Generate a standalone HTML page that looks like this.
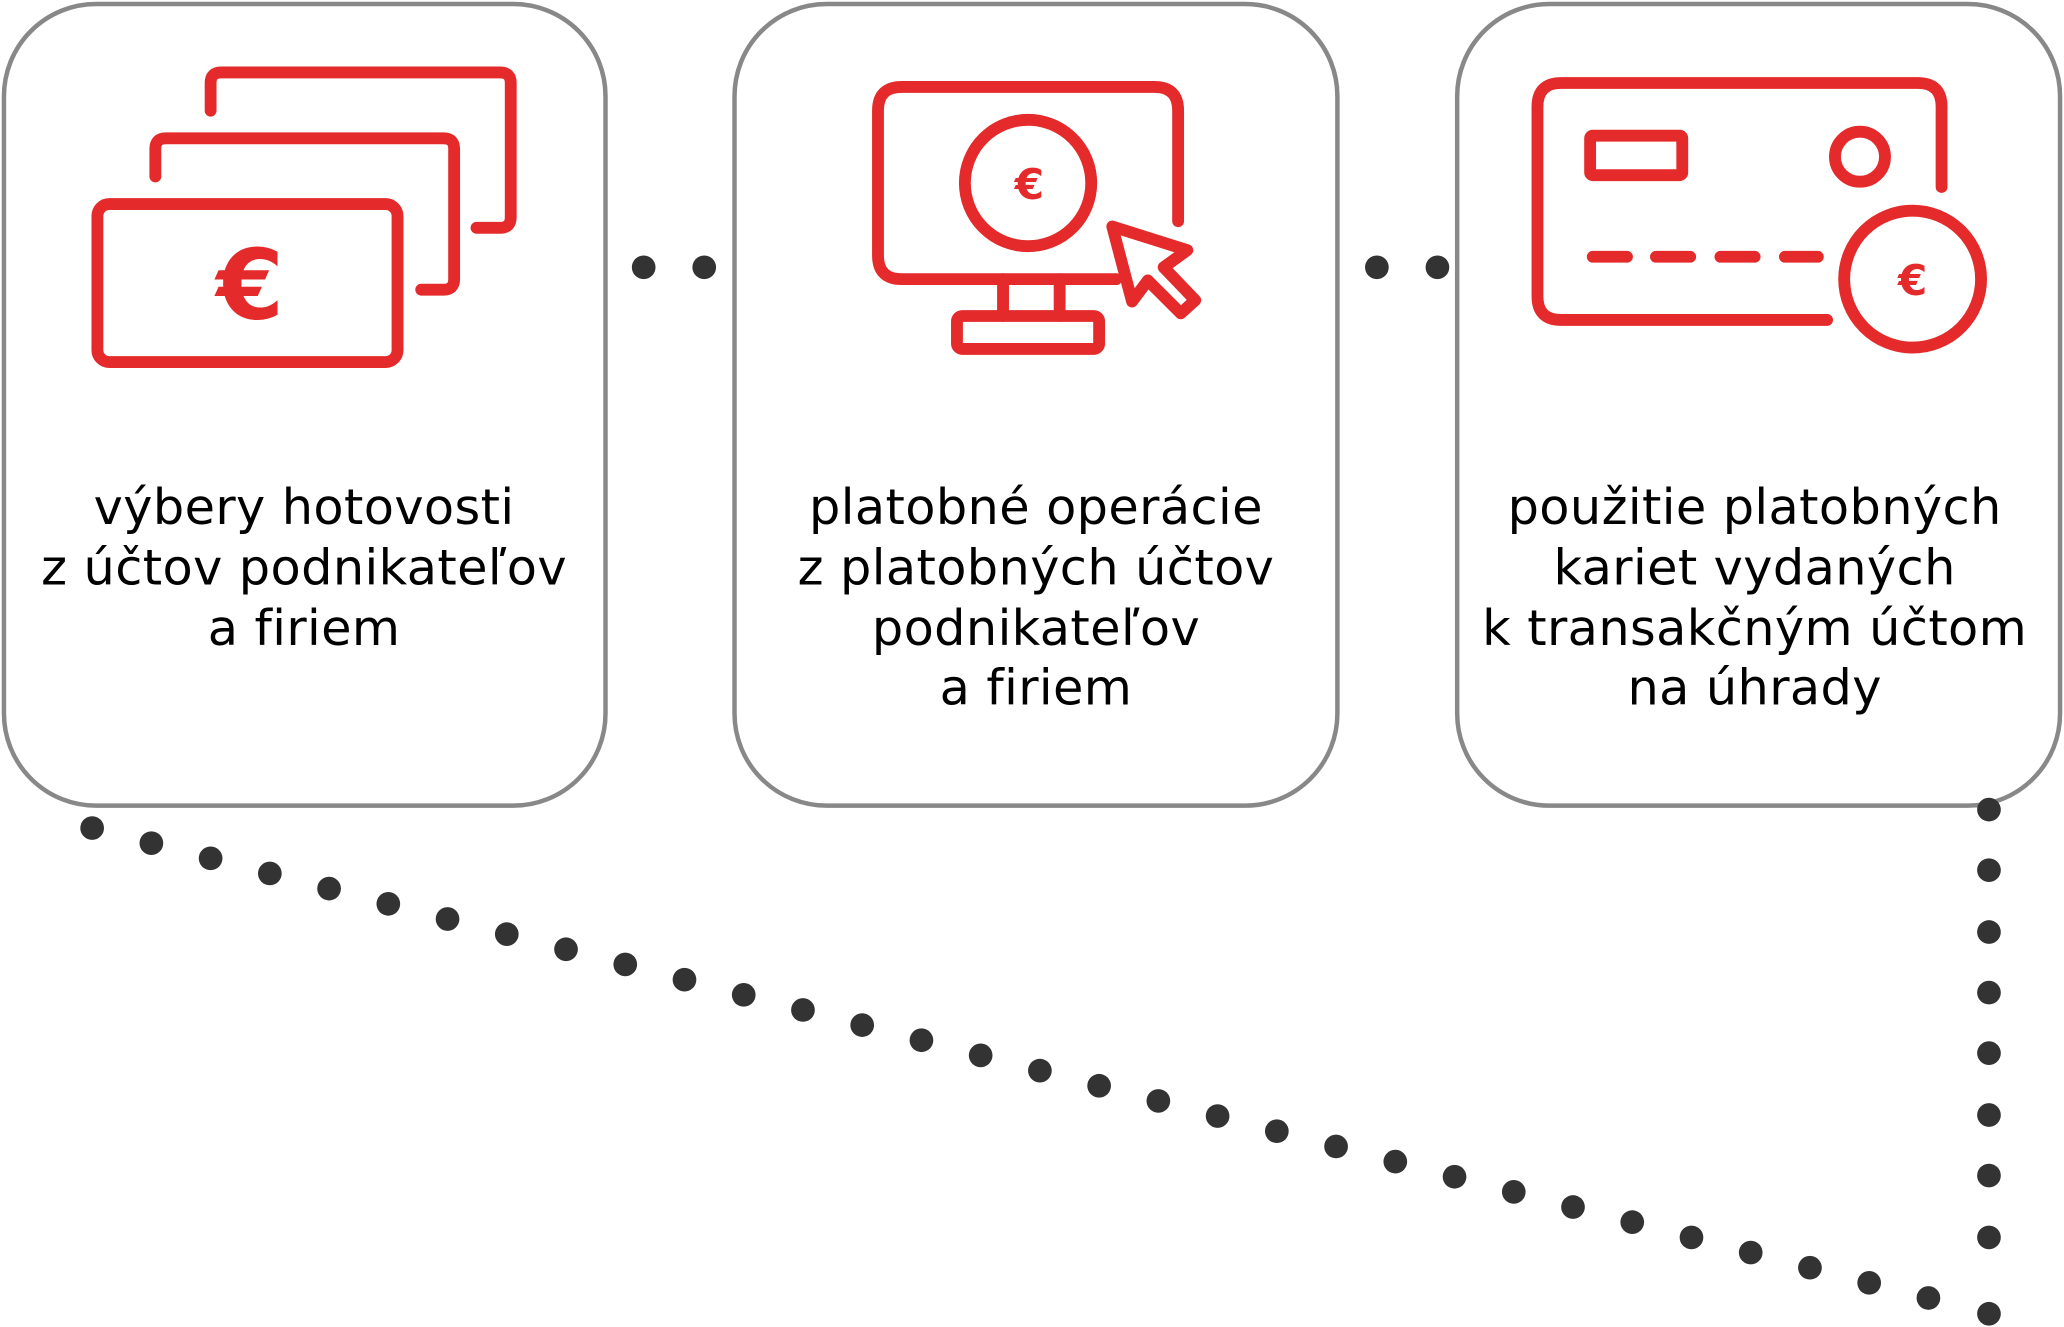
<!DOCTYPE html>
<html><head><meta charset="utf-8"><style>
html,body{margin:0;padding:0;background:#fff;}
svg{display:block;}
text{font-variant-ligatures:none;font-feature-settings:"liga" 0;}
</style></head><body>
<svg width="2064" height="1327" viewBox="0 0 1568 1008" xmlns="http://www.w3.org/2000/svg">
<g fill="#fff" stroke="#888" stroke-width="3.4">
<rect x="3" y="3" width="457" height="609" rx="70"/>
<rect x="558" y="3" width="458" height="609" rx="70"/>
<rect x="1107" y="3" width="458" height="609" rx="70"/>
</g>
<g fill="#333">
<circle cx="489" cy="203" r="9"/><circle cx="535" cy="203" r="9"/>
<circle cx="1046" cy="203" r="9"/><circle cx="1092" cy="203" r="9"/>
<circle cx="70" cy="629" r="9"/><circle cx="115" cy="640.5" r="9"/><circle cx="160" cy="652" r="9"/><circle cx="205" cy="663.5" r="9"/><circle cx="250" cy="675" r="9"/><circle cx="295" cy="686.6" r="9"/><circle cx="340" cy="698.1" r="9"/><circle cx="385" cy="709.6" r="9"/><circle cx="430" cy="721.1" r="9"/><circle cx="475" cy="732.6" r="9"/><circle cx="520" cy="744.2" r="9"/><circle cx="565" cy="755.7" r="9"/><circle cx="610" cy="767.2" r="9"/><circle cx="655" cy="778.7" r="9"/><circle cx="700" cy="790.2" r="9"/><circle cx="745" cy="801.7" r="9"/><circle cx="790" cy="813.3" r="9"/><circle cx="835" cy="824.8" r="9"/><circle cx="880" cy="836.3" r="9"/><circle cx="925" cy="847.8" r="9"/><circle cx="970" cy="859.3" r="9"/><circle cx="1015" cy="870.9" r="9"/><circle cx="1060" cy="882.4" r="9"/><circle cx="1105" cy="893.9" r="9"/><circle cx="1150" cy="905.4" r="9"/><circle cx="1195" cy="916.9" r="9"/><circle cx="1240" cy="928.4" r="9"/><circle cx="1285" cy="940" r="9"/><circle cx="1330" cy="951.5" r="9"/><circle cx="1375" cy="963" r="9"/><circle cx="1420" cy="974.5" r="9"/><circle cx="1465" cy="986" r="9"/>
<circle cx="1511" cy="615" r="9"/><circle cx="1511" cy="661" r="9"/><circle cx="1511" cy="708" r="9"/><circle cx="1511" cy="754" r="9"/><circle cx="1511" cy="800" r="9"/><circle cx="1511" cy="847" r="9"/><circle cx="1511" cy="893" r="9"/><circle cx="1511" cy="940" r="9"/><circle cx="1511" cy="998" r="9"/>
</g>
<g fill="none" stroke="#e42a2a" stroke-width="9" stroke-linecap="round" stroke-linejoin="round">
<rect x="74" y="155" width="228" height="120" rx="9"/>
<path d="M118 134 V113 Q118 105 126 105 H337 Q345 105 345 113 V212 Q345 220 337 220 H320"/>
<path d="M160 84 V63 Q160 55 168 55 H380 Q388 55 388 63 V165 Q388 173 380 173 H362"/>
<path d="M895 168 V84 Q895 66 877 66 H685 Q667 66 667 84 V194 Q667 212 685 212 H848"/>
<path d="M762 212 V240 M805 212 V240"/>
<rect x="727" y="240" width="108" height="25" rx="4"/>
<circle cx="781" cy="139" r="48"/>
<path d="M845 172 L902 190 L884 203 L908 228 L897 238 L872 213 L860 229 Z"/>
<path d="M1388 243 H1186 Q1168 243 1168 225 V81 Q1168 63 1186 63 H1457 Q1475 63 1475 81 V142"/>
<rect x="1208" y="103" width="70" height="30" rx="2"/>
<circle cx="1413" cy="119" r="19"/>
<path d="M1210 195 H1236 M1258 195 H1284 M1307 195 H1333 M1356 195 H1381"/>
<circle cx="1453" cy="212" r="52"/>
</g>
<g fill="#e42a2a" font-family="'DejaVu Sans','Liberation Sans',sans-serif" font-weight="bold" text-anchor="middle">
<text x="190" y="242" font-size="74">€</text>
<text x="782" y="151" font-size="32">€</text>
<text x="1453" y="224" font-size="32">€</text>
</g>
<g fill="#000" font-family="'DejaVu Sans','Liberation Sans',sans-serif" font-size="37.5" letter-spacing="0.3" text-anchor="middle">
<text x="231" y="398">výbery hotovosti</text>
<text x="231" y="444">z účtov podnikateľov</text>
<text x="231" y="490">a firiem</text>
<text x="787" y="398">platobné operácie</text>
<text x="787" y="444">z platobných účtov</text>
<text x="787" y="490">podnikateľov</text>
<text x="787" y="535">a firiem</text>
<text x="1333" y="398">použitie platobných</text>
<text x="1333" y="444">kariet vydaných</text>
<text x="1333" y="490">k transakčným účtom</text>
<text x="1333" y="535">na úhrady</text>
</g>
</svg>
</body></html>
